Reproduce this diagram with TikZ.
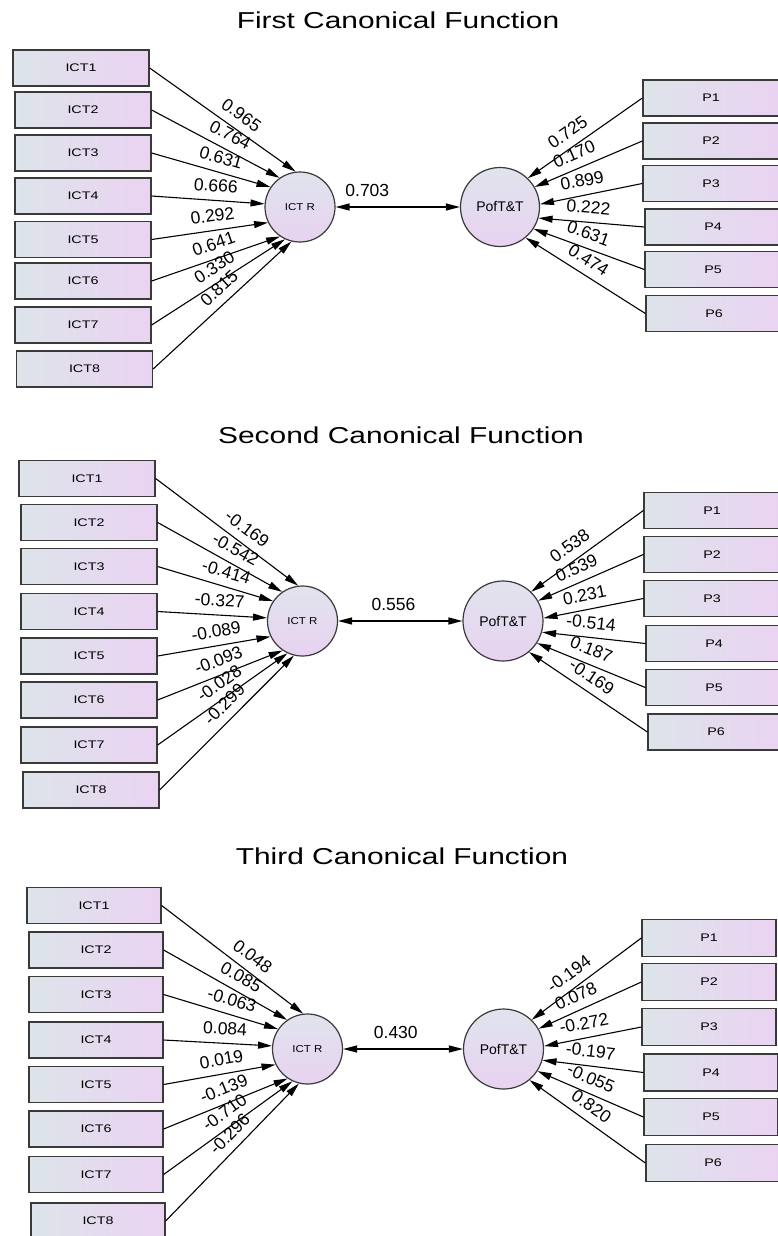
\documentclass[tikz,border=0pt]{standalone}
\usepackage{fontspec}
\newfontfamily\af{Liberation Sans}
\usetikzlibrary{arrows.meta}
\definecolor{bL}{HTML}{DDE4EA}
\definecolor{bR}{HTML}{EAD3F2}
\definecolor{cT}{HTML}{E0E4EE}
\definecolor{cB}{HTML}{E8D2F0}
\definecolor{edgec}{HTML}{3A3A3A}
\newcommand\bx[1]{\scalebox{1.3}[1]{#1}}
\tikzset{
  ibox/.style={draw=edgec, line width=1.3pt, left color=bL, right color=bR,
    minimum width=136pt, minimum height=36pt, inner sep=0pt,
    font=\af\fontsize{11}{12}\selectfont},
  lat/.style={circle, draw=edgec, line width=1.2pt, top color=cT, bottom color=cB, inner sep=0pt},
  latR/.style={lat, minimum size=70pt, font=\af\fontsize{10}{12}\selectfont},
  latQ/.style={lat, minimum size=79pt, font=\af\fontsize{14}{16}\selectfont},
  pth/.style={-{Triangle[length=14pt,width=7pt]}, line width=1.1pt},
  dbl/.style={{Triangle[length=14pt,width=7pt]}-{Triangle[length=14pt,width=7pt]}, line width=1.3pt},
  coef/.style={sloped, above=8pt, inner sep=0pt, font=\af\fontsize{17.5}{20}\selectfont},
  midl/.style={above=10pt, inner sep=0pt, font=\af\fontsize{17.5}{20}\selectfont},
  ttl/.style={anchor=base, inner sep=0pt, font=\af\fontsize{23}{27}\selectfont}
}
\begin{document}
\begin{tikzpicture}[x=1pt,y=-1pt]
\useasboundingbox[fill=white] (0,0) rectangle (777,1236);

% ---------- Panel 1 ----------
\node[ttl] (t1) at (398,29) {\scalebox{1.3}[1]{First Canonical Function}};
\foreach \i/\x/\y in {1/81/68, 2/83/110, 3/83/153, 4/83/196, 5/83/239.5, 6/83/281, 7/83/325, 8/84.5/369}
  \node[ibox] (a\i) at (\x,\y) {\bx{ICT\i}};
\node[latR] (ar) at (300,207) {\scalebox{1.15}[1]{ICT R}};
\node[latQ] (aq) at (500,207) {PofT\&T};
\foreach \i/\x/\y in {1/711/98, 2/711/141, 3/711/183.5, 4/713/227, 5/713/269.5, 6/714/313.5}
  \node[ibox] (ap\i) at (\x,\y) {\bx{P\i}};
\foreach \i/\ang/\p/\v in {1/97/0.57/0.965, 2/125/0.56/0.764, 3/146/0.55/0.631, 4/175/0.56/0.666,
    5/206/0.54/0.292, 6/236/0.52/0.641, 7/245/0.53/0.330, 8/256/0.55/0.815}
  \draw[pth] (a\i.east) -- node[coef, pos=\p] {\v} (ar.\ang);
\foreach \i/\ang/\p/\v in {1/46/0.58/0.725, 2/30/0.58/0.170, 3/4/0.56/0.899, 4/344/0.54/0.222,
    5/327/0.55/0.631, 6/310/0.54/0.474}
  \draw[pth] (ap\i.west) -- node[coef, pos=\p] {\v} (aq.\ang);
\draw[dbl] (ar) -- node[midl, pos=0.255] {0.703} (aq);

% ---------- Panel 2 ----------
\node[ttl] (t2) at (401,443) {\scalebox{1.3}[1]{Second Canonical Function}};
\foreach \i/\x/\y in {1/87/478.5, 2/89/522.5, 3/89/566.5, 4/89/611.5, 5/89/656, 6/89/700, 7/89/745, 8/91/790}
  \node[ibox] (b\i) at (\x,\y) {\bx{ICT\i}};
\node[latR] (br) at (302.5,621) {\scalebox{1.15}[1]{ICT R}};
\node[latQ, minimum size=80pt] (bq) at (503,621) {PofT\&T};
\foreach \i/\x/\y in {1/712/510.5, 2/712/554.5, 3/712/598.5, 4/714/643.5, 5/714/687.5, 6/716/732}
  \node[ibox] (bp\i) at (\x,\y) {\bx{P\i}};
\foreach \i/\ang/\p/\v in {1/97/0.58/-0.169, 2/125/0.57/-0.542, 3/146/0.56/-0.414, 4/175/0.56/-0.327,
    5/206/0.54/-0.089, 6/236/0.53/-0.093, 7/245/0.54/-0.028, 8/256/0.56/-0.299}
  \draw[pth] (b\i.east) -- node[coef, pos=\p] {\v} (br.\ang);
\foreach \i/\ang/\p/\v in {1/46/0.58/0.538, 2/30/0.58/0.539, 3/4/0.56/0.231, 4/344/0.54/-0.514,
    5/327/0.55/0.187, 6/310/0.54/-0.169}
  \draw[pth] (bp\i.west) -- node[coef, pos=\p] {\v} (bq.\ang);
\draw[dbl] (br) -- node[midl, pos=0.445] {0.556} (bq);

% ---------- Panel 3 ----------
\node[ttl] (t3) at (402,864) {\scalebox{1.3}[1]{Third Canonical Function}};
\foreach \i/\x/\y in {1/94/905.5, 2/96/950, 3/96/994.5, 4/96/1040, 5/96/1084.5, 6/96/1129, 7/96/1174.5, 8/98/1221}
  \node[ibox, minimum width=134pt] (c\i) at (\x,\y) {\bx{ICT\i}};
\node[latR] (cr) at (307.5,1049) {\scalebox{1.15}[1]{ICT R}};
\node[latQ, minimum size=80pt] (cq) at (503.5,1049) {PofT\&T};
\foreach \i/\x/\y in {1/709/938, 2/709/982, 3/709/1027, 4/711/1072.5, 5/711/1117, 6/713/1163}
  \node[ibox, minimum width=134pt, minimum height=37pt] (cp\i) at (\x,\y) {\bx{P\i}};
\foreach \i/\ang/\p/\v in {1/97/0.58/0.048, 2/125/0.57/0.085, 3/146/0.56/-0.063, 4/175/0.56/0.084,
    5/206/0.54/0.019, 6/236/0.53/-0.139, 7/245/0.54/-0.710, 8/256/0.56/-0.296}
  \draw[pth] (c\i.east) -- node[coef, pos=\p] {\v} (cr.\ang);
\foreach \i/\ang/\p/\v in {1/46/0.58/-0.194, 2/30/0.58/0.078, 3/4/0.56/-0.272, 4/344/0.54/-0.197,
    5/327/0.55/-0.055, 6/310/0.54/0.820}
  \draw[pth] (cp\i.west) -- node[coef, pos=\p] {\v} (cq.\ang);
\draw[dbl] (cr) -- node[midl, pos=0.44] {0.430} (cq);
\end{tikzpicture}
\end{document}
